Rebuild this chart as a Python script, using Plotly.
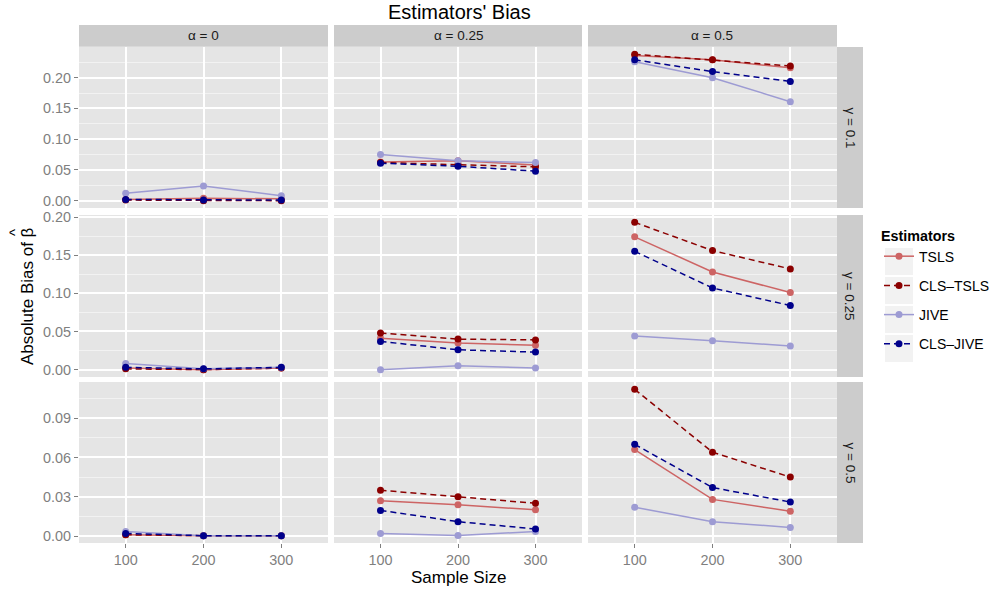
import plotly.graph_objects as go

# ---------------- data ----------------
sample_sizes = [100, 200, 300]
estimators = ["TSLS", "CLS\u2013TSLS", "JIVE", "CLS\u2013JIVE"]
alpha_labels = ["\u03b1 = 0", "\u03b1 = 0.25", "\u03b1 = 0.5"]
gamma_labels = ["\u03b3 = 0.1", "\u03b3 = 0.25", "\u03b3 = 0.5"]

# each list: [alpha=0 values, alpha=0.25 values, alpha=0.5 values] over sample sizes 100/200/300
# gamma = 0.1
tsls_g1 = [[0.002, 0.004, 0.003], [0.063, 0.065, 0.058], [0.236, 0.229, 0.216]]
cls_tsls_g1 = [[0.001, 0.000, 0.000], [0.062, 0.059, 0.055], [0.238, 0.229, 0.219]]
jive_g1 = [[0.012, 0.024, 0.008], [0.075, 0.065, 0.062], [0.226, 0.200, 0.161]]
cls_jive_g1 = [[0.002, 0.001, 0.001], [0.061, 0.056, 0.048], [0.229, 0.210, 0.194]]
# gamma = 0.25
tsls_g2 = [[0.002, 0.000, 0.002], [0.041, 0.035, 0.032], [0.174, 0.128, 0.101]]
cls_tsls_g2 = [[0.001, 0.000, 0.002], [0.048, 0.040, 0.039], [0.193, 0.156, 0.132]]
jive_g2 = [[0.008, 0.001, 0.003], [0.000, 0.005, 0.002], [0.044, 0.038, 0.031]]
cls_jive_g2 = [[0.003, 0.001, 0.003], [0.037, 0.026, 0.023], [0.155, 0.107, 0.084]]
# gamma = 0.5
tsls_g3 = [[0.001, 0.0003, 0.0003], [0.027, 0.024, 0.020], [0.066, 0.028, 0.019]]
cls_tsls_g3 = [[0.001, 0.0003, 0.0003], [0.035, 0.030, 0.025], [0.112, 0.064, 0.045]]
jive_g3 = [[0.0035, 0.0003, 0.0003], [0.002, 0.0005, 0.0035], [0.022, 0.011, 0.0066]]
cls_jive_g3 = [[0.002, 0.0003, 0.0003], [0.0196, 0.011, 0.0054], [0.070, 0.037, 0.026]]

rows_data = [
    [tsls_g1, cls_tsls_g1, jive_g1, cls_jive_g1],
    [tsls_g2, cls_tsls_g2, jive_g2, cls_jive_g2],
    [tsls_g3, cls_tsls_g3, jive_g3, cls_jive_g3],
]
row_dticks = [0.05, 0.05, 0.03]

# ---------------- styling ----------------
colors = ["#CD6464", "#8B0000", "#9D9BD3", "#00008B"]
dashes = ["solid", "6px,4px", "solid", "6px,4px"]

W, H = 995, 591
col_px = [(79, 328), (334, 582), (588, 837)]
row_px = [(47, 208), (215, 377), (382, 543)]
FONT = "Liberation Sans, Arial, sans-serif"

def px_x(v):
    return v / W

def px_y(v):
    return 1 - v / H

fig = go.Figure()
layout = dict(
    width=W, height=H,
    margin=dict(l=0, r=0, t=0, b=0, autoexpand=False),
    paper_bgcolor="white",
    plot_bgcolor="#E5E5E5",
    font=dict(family=FONT, size=12, color="#1A1A1A"),
    showlegend=True,
    shapes=[], annotations=[],
)

for r in range(3):
    vals = [v for est in rows_data[r] for a in est for v in a]
    lo, hi = min(vals), max(vals)
    span = hi - lo
    yr = [lo - 0.05 * span, hi + 0.05 * span]
    for c in range(3):
        i = r * 3 + c + 1
        xa = "xaxis" if i == 1 else f"xaxis{i}"
        ya = "yaxis" if i == 1 else f"yaxis{i}"
        xref = "x" if i == 1 else f"x{i}"
        yref = "y" if i == 1 else f"y{i}"
        layout[xa] = dict(
            domain=[px_x(col_px[c][0]), px_x(col_px[c][1])],
            anchor=yref, range=[40, 360], automargin=False,
            tickvals=sample_sizes, ticktext=[str(s) for s in sample_sizes],
            showticklabels=(r == 2), ticks="outside" if r == 2 else "",
            ticklen=4, tickcolor="#7F7F7F", tickwidth=1,
            tickfont=dict(size=14.4, color="#7F7F7F"),
            showgrid=True, gridcolor="white", gridwidth=1.6,
            zeroline=False, showline=False, fixedrange=True,
        )
        layout[ya] = dict(
            domain=[px_y(row_px[r][1]), px_y(row_px[r][0])],
            anchor=xref, range=yr, automargin=False,
            tick0=0, dtick=row_dticks[r], tickformat=".2f",
            showticklabels=(c == 0), ticks="outside" if c == 0 else "",
            ticklen=4, tickcolor="#7F7F7F", tickwidth=1,
            tickfont=dict(size=14.4, color="#7F7F7F"),
            showgrid=True, gridcolor="white", gridwidth=1.6,
            minor=dict(dtick=row_dticks[r] / 2, tick0=0, showgrid=True,
                       gridcolor="#F2F2F2", gridwidth=0.8, ticks=""),
            zeroline=False, showline=False, fixedrange=True,
        )
        for k, est in enumerate(estimators):
            fig.add_trace(go.Scatter(
                x=sample_sizes, y=rows_data[r][k][c],
                xaxis=xref, yaxis=yref,
                mode="lines+markers", name=est, legendgroup=est,
                showlegend=(i == 1),
                line=dict(color=colors[k], width=1.5, dash=dashes[k]),
                marker=dict(color=colors[k], size=7),
            ))

# strips
for c in range(3):
    layout["shapes"].append(dict(type="rect", xref="paper", yref="paper",
                                 x0=px_x(col_px[c][0]), x1=px_x(col_px[c][1]),
                                 y0=px_y(46.7), y1=px_y(25), fillcolor="#CCCCCC",
                                 line=dict(width=0), layer="below"))
    layout["annotations"].append(dict(text=alpha_labels[c], xref="paper", yref="paper",
                                      x=(px_x(col_px[c][0]) + px_x(col_px[c][1])) / 2,
                                      y=px_y(36), showarrow=False,
                                      font=dict(size=13.5, color="#1A1A1A"),
                                      xanchor="center", yanchor="middle"))
for r in range(3):
    layout["shapes"].append(dict(type="rect", xref="paper", yref="paper",
                                 x0=px_x(837), x1=px_x(863),
                                 y0=px_y(row_px[r][1]), y1=px_y(row_px[r][0]),
                                 fillcolor="#CCCCCC", line=dict(width=0), layer="below"))
    layout["annotations"].append(dict(text=gamma_labels[r], xref="paper", yref="paper",
                                      x=px_x(850), y=(px_y(row_px[r][0]) + px_y(row_px[r][1])) / 2,
                                      showarrow=False, textangle=90,
                                      font=dict(size=13.5, color="#1A1A1A"),
                                      xanchor="center", yanchor="middle"))

# titles
layout["annotations"].append(dict(text="Estimators' Bias", xref="paper", yref="paper",
                                  x=px_x(459), y=px_y(12), showarrow=False,
                                  font=dict(size=20, color="black"),
                                  xanchor="center", yanchor="middle"))
layout["annotations"].append(dict(text="Sample Size", xref="paper", yref="paper",
                                  x=px_x(458), y=px_y(577), showarrow=False,
                                  font=dict(size=17, color="black"),
                                  xanchor="center", yanchor="middle"))
layout["annotations"].append(dict(text="Absolute Bias of \u03b2", xref="paper", yref="paper",
                                  x=px_x(27), y=px_y(296), showarrow=False, textangle=-90,
                                  font=dict(size=17, color="black"),
                                  xanchor="center", yanchor="middle"))
layout["annotations"].append(dict(text="^", xref="paper", yref="paper",
                                  x=px_x(14), y=px_y(233), showarrow=False, textangle=-90,
                                  font=dict(size=15, color="black"),
                                  xanchor="center", yanchor="middle"))

# legend key backgrounds
for k in range(4):
    top = 248 + k * 29
    layout["shapes"].append(dict(type="rect", xref="paper", yref="paper",
                                 x0=px_x(885), x1=px_x(913),
                                 y0=px_y(top + 27), y1=px_y(top),
                                 fillcolor="#F2F2F2", line=dict(width=0), layer="below"))

layout["legend"] = dict(
    title=dict(text="<b>Estimators</b>", font=dict(size=14.3, color="black")),
    x=px_x(879), y=px_y(222), xanchor="left", yanchor="top",
    bgcolor="rgba(0,0,0,0)", itemwidth=30, tracegroupgap=8,
    font=dict(size=14, color="black"),
)

fig.update_layout(**layout)
fig.write_html("out.html", config={"displayModeBar": False},
               post_script="document.body.style.margin='0';document.body.style.padding='0';")
